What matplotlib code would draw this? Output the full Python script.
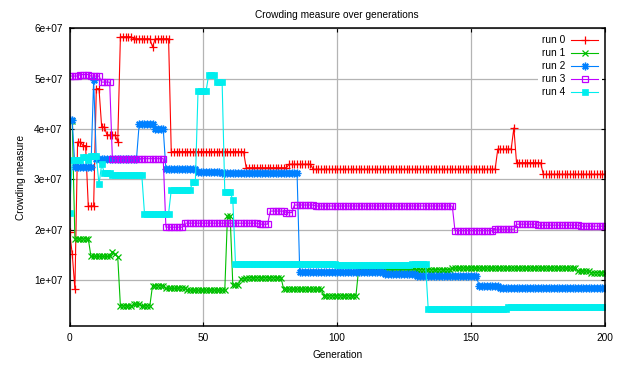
import numpy as np
import matplotlib
matplotlib.use('Agg')
import matplotlib.pyplot as plt
from matplotlib.ticker import FuncFormatter

plt.rcParams['font.family'] = ['Liberation Sans', 'DejaVu Sans']
plt.rcParams['font.size'] = 7.3

n_gen = 201
generations = np.arange(n_gen)

# each run is piecewise constant: generation where a level starts, and level (x1e7)
run0_start = [0, 1, 2, 3, 5, 7, 10, 12, 14, 18, 19, 24, 31, 32, 38, 66, 82, 91, 160, 166, 167, 177]
run0_val = [1.96, 1.52, 0.82, 3.74, 3.67, 2.47, 4.80, 4.04, 3.88, 3.74, 5.83, 5.79, 5.63, 5.79,
            3.55, 3.23, 3.30, 3.20, 3.60, 4.02, 3.33, 3.10]

run1_start = [0, 2, 8, 16, 17, 18, 19, 24, 27, 31, 36, 41, 44, 59, 61, 64, 66, 80, 95, 108, 143, 190, 195]
run1_val = [4.15, 1.82, 1.47, 1.56, 1.52, 1.46, 0.49, 0.52, 0.49, 0.89, 0.835, 0.85, 0.80, 2.27,
            0.90, 1.03, 1.05, 0.82, 0.69, 1.21, 1.24, 1.18, 1.15]

run2_start = [0, 2, 9, 10, 26, 32, 36, 48, 57, 86, 118, 130, 153, 161]
run2_val = [4.18, 3.24, 4.97, 3.40, 4.09, 4.00, 3.20, 3.15, 3.13, 1.17, 1.12, 1.08, 0.89, 0.85]

run3_start = [0, 4, 8, 12, 16, 36, 43, 71, 75, 81, 84, 92, 144, 159, 167, 175, 191]
run3_val = [5.05, 5.08, 5.05, 4.93, 3.41, 2.05, 2.13, 2.11, 2.37, 2.34, 2.49, 2.47, 1.98, 2.01,
            2.11, 2.09, 2.07]

run4_start = [0, 1, 5, 7, 8, 11, 12, 13, 16, 28, 38, 46, 48, 52, 55, 58, 61, 62, 100, 128, 134, 152, 164]
run4_val = [2.34, 3.39, 3.45, 3.39, 3.46, 2.90, 3.30, 3.13, 3.08, 2.32, 2.79, 2.94, 4.75, 5.08,
            4.93, 2.75, 2.59, 1.32, 1.29, 1.32, 0.43, 0.42, 0.47]

labels = ['run 0', 'run 1', 'run 2', 'run 3', 'run 4']
colors = ['#ff0000', '#00c000', '#0080ff', '#c000ff', '#00eeee']


def expand(starts, vals):
    lengths = np.diff(starts + [n_gen])
    return np.repeat(np.array(vals) * 1e7, lengths)


runs = [expand(run0_start, run0_val), expand(run1_start, run1_val), expand(run2_start, run2_val),
        expand(run3_start, run3_val), expand(run4_start, run4_val)]

fig = plt.figure(figsize=(6.21, 3.66), dpi=100)
ax = fig.add_axes([0.112, 0.109, 0.862, 0.814])

styles = [
    dict(marker='+', markersize=5.5, markeredgewidth=0.9),
    dict(marker='x', markersize=4, markeredgewidth=0.9),
    dict(marker=(8, 2, 0), markersize=5.5, markeredgewidth=1.0),
    dict(marker='s', markersize=4.2, markeredgewidth=0.9, markerfacecolor='none'),
    dict(marker='s', markersize=5, markeredgewidth=0.5),
]
for y, lab, c, st in zip(runs, labels, colors, styles):
    ax.plot(generations, y, color=c, lw=0.8, label=lab, **st)

ax.set_xlim(0, 200)
ax.set_ylim(0.087e7, 6e7)
ax.set_xticks([0, 50, 100, 150, 200])
ax.set_yticks([1e7, 2e7, 3e7, 4e7, 5e7, 6e7])
ax.yaxis.set_major_formatter(FuncFormatter(lambda v, p: '%g' % v))
ax.tick_params(direction='in', length=3, width=0.8, top=True, right=True, pad=5)
ax.grid(True, color='#b4b4b4', lw=0.9)
ax.set_axisbelow(True)
for s in ax.spines.values():
    s.set_linewidth(1.1)

ax.set_title('Crowding measure over generations', fontsize=7.3, pad=7)
ax.set_xlabel('Generation', labelpad=5)
ax.set_ylabel('Crowding measure', labelpad=6)

leg = ax.legend(loc='upper right', markerfirst=False, frameon=True, fancybox=False,
                framealpha=1, edgecolor='none', handlelength=2.6, labelspacing=0.3,
                borderaxespad=0.3, handletextpad=0.6, fontsize=7.3)

fig.savefig('out.png', dpi=100)
